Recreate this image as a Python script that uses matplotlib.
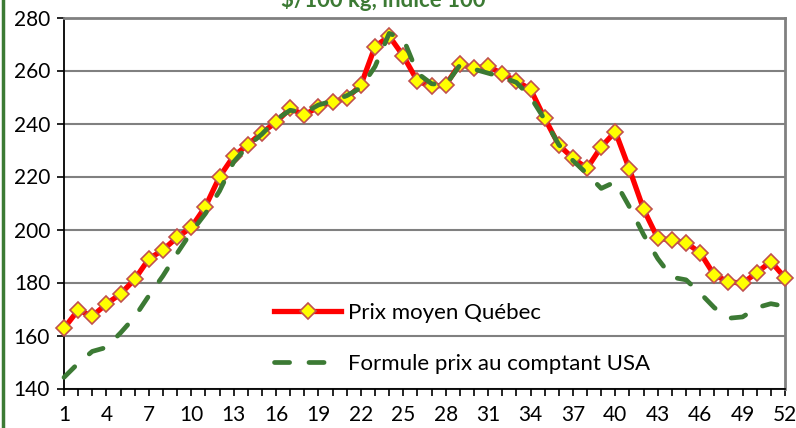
import matplotlib
matplotlib.use("Agg")
import matplotlib.pyplot as plt
from matplotlib.lines import Line2D

plt.rcParams['font.family'] = ['Lato', 'DejaVu Sans']

# semaines et prix ($/100 kg, indice 100)
semaines = list(range(1, 53))
prix_quebec = [162.7, 169.6, 167.3, 171.9, 175.7, 181.2, 188.9, 192.3, 197.0, 200.8,
               208.6, 219.9, 227.7, 232.0, 236.5, 240.5, 245.7, 243.2, 246.3, 248.2,
               249.5, 254.5, 269.0, 273.0, 265.5, 256.0, 254.0, 254.5, 262.5, 260.8,
               261.7, 258.7, 256.0, 252.9, 242.0, 231.9, 226.9, 223.1, 231.2, 236.9,
               222.7, 207.6, 196.7, 196.0, 195.0, 191.2, 182.8, 180.3, 179.7, 183.7,
               187.9, 181.8]
prix_usa = [144.2, 149.5, 154.0, 155.5, 161.0, 167.0, 175.0, 182.5, 191.0, 199.0,
            206.0, 214.5, 225.5, 231.5, 236.0, 241.5, 245.0, 244.0, 247.0, 248.5,
            250.5, 253.5, 261.5, 274.0, 272.0, 259.0, 255.0, 254.5, 262.0, 260.5,
            259.0, 257.5, 255.5, 250.0, 241.5, 232.0, 226.0, 221.0, 215.5, 218.0,
            208.5, 198.0, 189.0, 182.0, 181.0, 176.0, 170.5, 166.5, 167.0, 170.5,
            172.0, 171.0]
ticks_x = list(range(1, 53, 3))
ticks_y = list(range(140, 281, 20))

rouge = '#FF0000'
vert = '#3C7A34'

fig = plt.figure(figsize=(7.96, 4.28), dpi=100)
ax = fig.add_axes([64 / 796, 1 - 388.5 / 428, 721 / 796, 371 / 428])

ax.plot(semaines, prix_quebec, color=rouge, lw=3.8, marker='D', ms=8,
        mfc='#FFFF00', mec='#C0504D', mew=1.2, clip_on=False, zorder=3,
        label='Prix moyen Québec')
ax.plot(semaines, prix_usa, color=vert, lw=3.4, dashes=(3.2, 4.1),
        dash_capstyle='round', clip_on=False, zorder=4,
        label='Formule prix au comptant USA')

ax.set_xlim(1, 52)
ax.set_ylim(140, 280)
ax.set_xticks(ticks_x)
ax.set_xticks(semaines, minor=True)
ax.set_yticks(ticks_y)
ax.tick_params(axis='both', labelsize=15, direction='out', length=5, width=1.2, color='black')
ax.tick_params(axis='x', which='minor', length=5, width=1.2)
ax.tick_params(axis='x', pad=7)
ax.tick_params(axis='y', pad=5)
ax.grid(axis='y', color='#808080', lw=1.5)
ax.set_axisbelow(True)

ax.spines['left'].set_color('black')
ax.spines['bottom'].set_color('black')
ax.spines['left'].set_linewidth(1.3)
ax.spines['bottom'].set_linewidth(1.3)
ax.spines['top'].set_color('#808080')
ax.spines['right'].set_color('#808080')
ax.spines['top'].set_linewidth(2)
ax.spines['right'].set_linewidth(2)

ax.legend(loc='lower left', bbox_to_anchor=(0.264, -0.015), frameon=False, fontsize=16,
          handlelength=3.0, handletextpad=0.3, labelspacing=1.4)

fig.text(383 / 796, 1 - 7 / 428, '$/100 kg, indice 100', color=vert, fontsize=16,
         fontweight='bold', ha='center', va='baseline')
fig.add_artist(Line2D([3 / 796, 3 / 796], [0, 1], color=vert, lw=2.5,
                      transform=fig.transFigure))

fig.savefig('out.png', dpi=100)
